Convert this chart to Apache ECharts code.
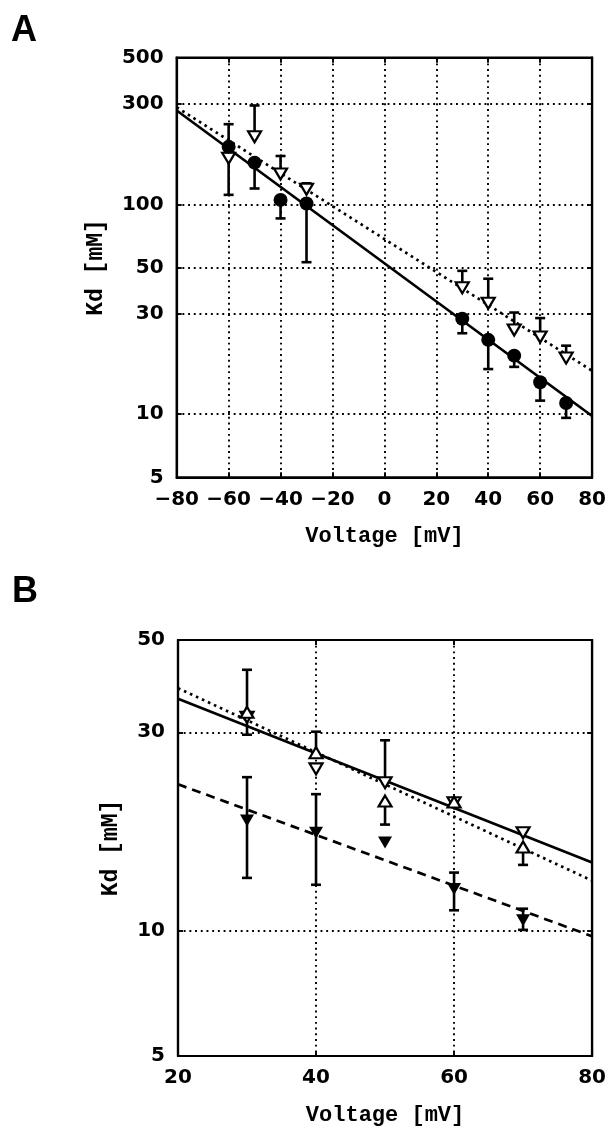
<!DOCTYPE html>
<html>
<head>
<meta charset="utf-8">
<script src="https://cdn.jsdelivr.net/npm/echarts@6/dist/echarts.min.js"></script>
<style>
html,body{margin:0;padding:0;background:#fff;}
#chart{width:609px;height:1127px;}
</style>
</head>
<body>
<div id="chart"></div>
<script>
// ---------- Panel A data ----------
var voltA = [-60, -50, -40, -30, 30, 40, 50, 60, 70];
var kdCircleA = [188, 158, 105, 101, 28.5, 22.6, 19.0, 14.2, 11.3];
var circleErrLoA = [null, 119, 85.7, 53, 24.3, 16.4, 16.8, 11.6, 9.6];
var circleErrHiA = [241, null, null, null, null, null, null, null, null];
var kdTriA = [166, 210, 139.5, 118, 40, 33.8, 25.2, 23.3, 18.5];
var triErrLoA = [111, null, null, null, null, null, null, null, null];
var triErrHiA = [null, 296, 170, 126, 48.2, 44.2, 30.5, 28.7, 21.2];
var fitSolidA = [[-80, 280], [80, 9.8]];
var fitDottedA = [[-80, 290], [80, 16.1]];
var xTicksA = [-80, -60, -40, -20, 0, 20, 40, 60, 80];
var yTicksA = [5, 10, 30, 50, 100, 300, 500];

// ---------- Panel B data ----------
var voltB = [30, 40, 50, 60, 70];
var kdUpB = [33.5, 26.8, 20.5, 20.4, 15.9];
var upErrLoB = [null, null, 18.0, null, 14.4];
var upErrHiB = [42.4, 30.1, null, null, null];
var kdDownB = [32.6, 24.5, 22.7, 20.3, 17.2];
var downErrLoB = [29.6, null, null, null, null];
var downErrHiB = [null, null, 28.7, null, null];
var kdFilledB = [18.4, 17.2, 16.3, 12.6, 10.6];
var filledErrLoB = [13.4, 12.9, null, 11.2, 10.05];
var filledErrHiB = [23.4, 21.3, null, 13.8, 11.3];
var fitSolidB = [[20, 36.1], [80, 14.6]];
var fitDottedB = [[20, 38.3], [80, 13.2]];
var fitDashedB = [[20, 22.5], [80, 9.7]];
var xTicksB = [20, 40, 60, 80];
var yTicksB = [5, 10, 30, 50];

// ---------- helpers ----------
function pts(xs, ys) { return xs.map(function (x, i) { return [x, ys[i]]; }); }
function errData(xs, ys, lo, hi) {
  return xs.map(function (x, i) {
    return [x, ys[i],
      lo[i] == null ? ys[i] : lo[i],
      hi[i] == null ? ys[i] : hi[i],
      lo[i] == null ? 0 : 1,
      hi[i] == null ? 0 : 1];
  });
}
function renderErr(params, api) {
  var x = api.value(0);
  var pLo = api.coord([x, api.value(2)]);
  var pHi = api.coord([x, api.value(3)]);
  var cap = 5;
  var st = { stroke: '#000', lineWidth: 2.6 };
  var ch = [{ type: 'line', shape: { x1: pLo[0], y1: pLo[1], x2: pHi[0], y2: pHi[1] }, style: st }];
  if (api.value(4)) ch.push({ type: 'line', shape: { x1: pLo[0] - cap, y1: pLo[1], x2: pLo[0] + cap, y2: pLo[1] }, style: st });
  if (api.value(5)) ch.push({ type: 'line', shape: { x1: pHi[0] - cap, y1: pHi[1], x2: pHi[0] + cap, y2: pHi[1] }, style: st });
  return { type: 'group', children: ch };
}
var tickFont = { fontFamily: 'DejaVu Sans', fontWeight: 'bold', fontSize: 20, color: '#000' };
var gridDots = { color: '#000', width: 1.9, type: [1.9, 3.8] };
function minusFmt(v) { return v < 0 ? '\u2212' + Math.abs(v) : String(v); }
var axLine = { show: true, onZero: false, lineStyle: { color: '#000', width: 2.2 } };
var axTick = { show: true, inside: true, length: 5, lineStyle: { color: '#000', width: 1.9 } };

function xAxisMain(gi, min, max) {
  return {
    gridIndex: gi, type: 'value', min: min, max: max, interval: 20,
    position: 'bottom',
    name: 'Voltage [mV]', nameLocation: 'middle', nameGap: 48,
    nameTextStyle: { fontFamily: 'Liberation Mono', fontWeight: 'bold', fontSize: 22, color: '#000' },
    axisLine: axLine, axisTick: axTick,
    axisLabel: Object.assign({ margin: 12, formatter: minusFmt, showMinLabel: true, showMaxLabel: true }, tickFont),
    splitLine: { show: true, lineStyle: gridDots }
  };
}
function xAxisTop(gi, min, max) {
  return {
    gridIndex: gi, type: 'value', min: min, max: max, interval: 20, position: 'top',
    axisLine: axLine, axisTick: axTick,
    axisLabel: { show: false }, splitLine: { show: false }
  };
}
function yAxisMain(gi, min, max, ticks, gap) {
  return {
    gridIndex: gi, type: 'log', logBase: 10, min: min, max: max, position: 'left',
    name: 'Kd [mM]', nameLocation: 'middle', nameGap: gap, nameRotate: 90,
    nameTextStyle: { fontFamily: 'Liberation Mono', fontWeight: 'bold', fontSize: 23, color: '#000' },
    axisLine: axLine,
    axisTick: Object.assign({ customValues: ticks }, axTick),
    axisLabel: Object.assign({ margin: 13, customValues: ticks }, tickFont),
    minorTick: { show: false },
    splitLine: { show: true, lineStyle: gridDots }
  };
}
function yAxisRight(gi, min, max, ticks) {
  return {
    gridIndex: gi, type: 'log', logBase: 10, min: min, max: max, position: 'right',
    axisLine: axLine,
    axisTick: Object.assign({ customValues: ticks }, axTick),
    axisLabel: { show: false }, splitLine: { show: false }
  };
}
function fitLine(xi, yi, data, type) {
  return {
    type: 'line', xAxisIndex: xi, yAxisIndex: yi, data: data, symbol: 'none', z: 2,
    silent: true, animation: false,
    lineStyle: { color: '#000', width: 2.7, type: type }
  };
}
function errSeries(xi, yi, data) {
  return {
    type: 'custom', xAxisIndex: xi, yAxisIndex: yi, data: data, renderItem: renderErr, z: 3,
    encode: { x: 0, y: [1, 2, 3] }, animation: false, silent: true
  };
}
function markSeries(xi, yi, data, symbol, rotate, filled, size) {
  return {
    type: 'scatter', xAxisIndex: xi, yAxisIndex: yi, data: data, symbol: symbol,
    symbolRotate: rotate, symbolSize: size, z: 4, animation: false, silent: true,
    itemStyle: { color: filled ? '#000' : '#fff', borderColor: '#000', borderWidth: filled ? 0 : 2.2, opacity: 1 }
  };
}

var chart = echarts.init(document.getElementById('chart'), null, { renderer: 'canvas' });
chart.setOption({
  backgroundColor: '#fff',
  animation: false,
  grid: [
    { left: 176.7, top: 57.7, width: 417.3, height: 419.6, show: true, borderColor: '#000', borderWidth: 2.2, backgroundColor: 'transparent' },
    { left: 178, top: 640, width: 416.3, height: 417.3, show: true, borderColor: '#000', borderWidth: 2.2, backgroundColor: 'transparent' }
  ],
  xAxis: [
    xAxisMain(0, -80, 80), xAxisTop(0, -80, 80),
    xAxisMain(1, 20, 80), xAxisTop(1, 20, 80)
  ],
  yAxis: [
    yAxisMain(0, 5, 500, yTicksA, 69), yAxisRight(0, 5, 500, yTicksA),
    yAxisMain(1, 5, 50, yTicksB, 55.5), yAxisRight(1, 5, 50, yTicksB)
  ],
  graphic: [
    { type: 'text', left: 11, top: 13, style: { text: 'A', fontFamily: 'Liberation Sans', fontWeight: 'bold', fontSize: 36, fill: '#000' } },
    { type: 'text', left: 12, top: 574, style: { text: 'B', fontFamily: 'Liberation Sans', fontWeight: 'bold', fontSize: 36, fill: '#000' } }
  ],
  series: [
    // Panel A
    fitLine(0, 0, fitSolidA, 'solid'),
    fitLine(0, 0, fitDottedA, [2.6, 4]),
    errSeries(0, 0, errData(voltA, kdCircleA, circleErrLoA, circleErrHiA)),
    errSeries(0, 0, errData(voltA, kdTriA, triErrLoA, triErrHiA)),
    markSeries(0, 0, pts(voltA, kdTriA), 'triangle', 180, false, [13, 11]),
    markSeries(0, 0, pts(voltA, kdCircleA), 'circle', 0, true, 14),
    // Panel B
    fitLine(2, 2, fitSolidB, 'solid'),
    fitLine(2, 2, fitDottedB, [2.6, 4]),
    fitLine(2, 2, fitDashedB, [9, 6]),
    errSeries(2, 2, errData(voltB, kdUpB, upErrLoB, upErrHiB)),
    errSeries(2, 2, errData(voltB, kdDownB, downErrLoB, downErrHiB)),
    errSeries(2, 2, errData(voltB, kdFilledB, filledErrLoB, filledErrHiB)),
    markSeries(2, 2, pts(voltB, kdFilledB), 'triangle', 180, true, [14, 12]),
    markSeries(2, 2, pts(voltB, kdDownB), 'triangle', 180, false, [13, 11]),
    markSeries(2, 2, pts(voltB, kdUpB), 'triangle', 0, false, [13, 11])
  ]
});
</script>
</body>
</html>
